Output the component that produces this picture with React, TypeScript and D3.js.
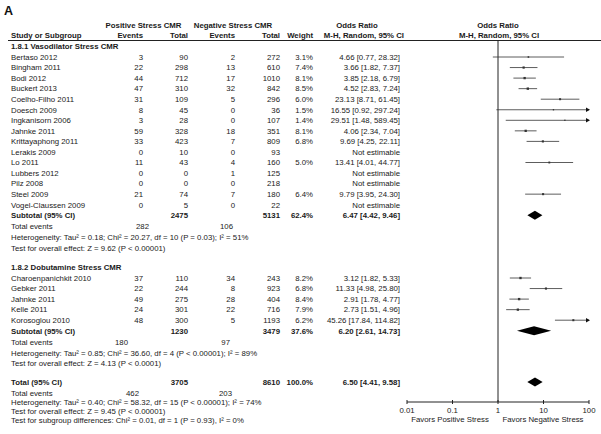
import React from "react";
import * as d3 from "d3";

// subgroup 1.8.1 Vasodilator Stress CMR
const studies1 = ["Bertaso 2012", "Bingham 2011", "Bodi 2012", "Buckert 2013", "Coelho-Filho 2011", "Doesch 2009", "Ingkanisorn 2006", "Jahnke 2011", "Krittayaphong 2011", "Lerakis 2009", "Lo 2011", "Lubbers 2012", "Pilz 2008", "Steel 2009", "Vogel-Claussen 2009"];
const posEvents1 = [3, 22, 44, 47, 31, 8, 3, 59, 33, 0, 11, 0, 0, 21, 0];
const posTotal1 = [90, 298, 712, 310, 109, 45, 28, 328, 423, 10, 43, 0, 0, 74, 5];
const negEvents1 = [2, 13, 17, 32, 5, 0, 0, 18, 7, 0, 4, 1, 0, 7, 0];
const negTotal1 = [272, 610, 1010, 842, 296, 36, 107, 351, 809, 93, 160, 125, 218, 180, 22];
const weight1 = [3.1, 7.4, 8.1, 8.5, 6.0, 1.5, 1.4, 8.1, 6.8, null, 5.0, null, null, 6.4, null];
const or1 = [4.66, 3.66, 3.85, 4.52, 23.13, 16.55, 29.51, 4.06, 9.69, null, 13.41, null, null, 9.79, null];
const lo1 = [0.77, 1.82, 2.18, 2.83, 8.71, 0.92, 1.48, 2.34, 4.25, null, 4.01, null, null, 3.95, null];
const hi1 = [28.32, 7.37, 6.79, 7.24, 61.45, 297.24, 589.45, 7.04, 22.11, null, 44.77, null, null, 24.3, null];

// subgroup 1.8.2 Dobutamine Stress CMR
const studies2 = ["Charoenpanichkit 2010", "Gebker 2011", "Jahnke 2011", "Kelle 2011", "Korosoglou 2010"];
const posEvents2 = [37, 22, 49, 24, 48];
const posTotal2 = [110, 244, 275, 301, 300];
const negEvents2 = [34, 8, 28, 22, 5];
const negTotal2 = [243, 923, 404, 716, 1193];
const weight2 = [8.2, 6.8, 8.4, 7.9, 6.2];
const or2 = [3.12, 11.33, 2.91, 2.73, 45.26];
const lo2 = [1.82, 4.98, 1.78, 1.51, 17.84];
const hi2 = [5.33, 25.8, 4.77, 4.96, 114.82];

// pooled: [subgroup 1, subgroup 2, overall]
const pooledPosTotal = [2475, 1230, 3705];
const pooledNegTotal = [5131, 3479, 8610];
const pooledWeight = [62.4, 37.6, 100.0];
const pooledOr = [6.47, 6.2, 6.5];
const pooledLo = [4.42, 2.61, 4.41];
const pooledHi = [9.46, 14.73, 9.58];
const totalPosEvents = [282, 180, 462];
const totalNegEvents = [106, 97, 203];
const heterogeneity = [
  "Heterogeneity: Tau² = 0.18; Chi² = 20.27, df = 10 (P = 0.03); I² = 51%",
  "Heterogeneity: Tau² = 0.85; Chi² = 36.60, df = 4 (P < 0.00001); I² = 89%",
  "Heterogeneity: Tau² = 0.40; Chi² = 58.32, df = 15 (P < 0.00001); I² = 74%",
];
const overallEffect = [
  "Test for overall effect: Z = 9.62 (P < 0.00001)",
  "Test for overall effect: Z = 4.13 (P < 0.0001)",
  "Test for overall effect: Z = 9.45 (P < 0.00001)",
];
const subgroupTest = "Test for subgroup differences: Chi² = 0.01, df = 1 (P = 0.93), I² = 0%";
const axisTicks = [0.01, 0.1, 1, 10, 100];

const FONT = "'Liberation Sans', Arial, sans-serif";
const FS = 7.8;

const fmtCI = (o, l, h) =>
  o == null ? "Not estimable" : `${o.toFixed(2)} [${l.toFixed(2)}, ${h.toFixed(2)}]`;

export default function App() {
  const x = d3.scaleLog().domain([0.01, 100]).range([407, 589]);
  const xMin = 407;
  const xMax = 589;
  const axisY = 402;

  const col = { study: 11, posEv: 143, posTot: 188, negEv: 235, negTot: 280, weight: 313, or: 400 };
  const step = 10.55;

  const T = (props) => (
    <text fontFamily={FONT} fontSize={FS} fill="#1a1a1a" {...props} />
  );

  const studyRow = (name, pe, pt, ne, nt, w, o, l, h, y, key) => {
    const b = y + 2.8;
    const s = w == null ? 0 : 1.1 + w * 0.15;
    return (
      <g key={key}>
        <T x={col.study} y={b}>{name}</T>
        <T x={col.posEv} y={b} textAnchor="end">{pe}</T>
        <T x={col.posTot} y={b} textAnchor="end">{pt}</T>
        <T x={col.negEv} y={b} textAnchor="end">{ne}</T>
        <T x={col.negTot} y={b} textAnchor="end">{nt}</T>
        {w != null && <T x={col.weight} y={b} textAnchor="end">{w.toFixed(1)}%</T>}
        <T x={col.or} y={b} textAnchor="end">{fmtCI(o, l, h)}</T>
        {o != null && (
          <g>
            <line x1={Math.max(x(l), xMin)} x2={Math.min(x(h), xMax)} y1={y} y2={y} stroke="#333" strokeWidth={0.8} />
            {h > 100 && <path d={`M${xMax + 1},${y} L${xMax - 3},${y - 2.2} L${xMax - 3},${y + 2.2} Z`} fill="#111" />}
            <rect x={x(o) - s / 2} y={y - s / 2} width={s} height={s} fill="#333" />
          </g>
        )}
      </g>
    );
  };

  const pooledRow = (label, i, y) => {
    const b = y + 2.8;
    const hh = 4.5;
    return (
      <g key={"p" + i}>
        <T x={col.study} y={b} fontWeight="bold">{label}</T>
        <T x={col.posTot} y={b} textAnchor="end" fontWeight="bold">{pooledPosTotal[i]}</T>
        <T x={col.negTot} y={b} textAnchor="end" fontWeight="bold">{pooledNegTotal[i]}</T>
        <T x={col.weight} y={b} textAnchor="end" fontWeight="bold">{pooledWeight[i].toFixed(1)}%</T>
        <T x={col.or} y={b} textAnchor="end" fontWeight="bold">{fmtCI(pooledOr[i], pooledLo[i], pooledHi[i])}</T>
        <path
          d={`M${x(pooledLo[i])},${y} L${x(pooledOr[i])},${y - hh} L${x(pooledHi[i])},${y} L${x(pooledOr[i])},${y + hh} Z`}
          fill="#000"
        />
      </g>
    );
  };

  // where the "Total events" numbers sit in each block
  const evX = [[149, 233], [128, 230], [139, 232]];

  const summary = (i, ys) => (
    <g key={"s" + i}>
      <T x={col.study} y={ys[0] + 2.8}>Total events</T>
      <T x={evX[i][0]} y={ys[0] + 2.8} textAnchor="end">{totalPosEvents[i]}</T>
      <T x={evX[i][1]} y={ys[0] + 2.8} textAnchor="end">{totalNegEvents[i]}</T>
      <T x={col.study} y={ys[1] + 2.8}>{heterogeneity[i]}</T>
      <T x={col.study} y={ys[2] + 2.8}>{overallEffect[i]}</T>
    </g>
  );

  const y1 = 57;
  const sub1Y = y1 + studies1.length * step;
  const y2 = 278;
  const sub2Y = y2 + studies2.length * step;
  const totY = 382;

  return (
    <svg width={601} height={434} style={{ position: "absolute", left: 0, top: 0, background: "#fff" }}>
      <text x={4} y={15} fontFamily={FONT} fontSize={12.5} fontWeight="bold" fill="#111">A</text>

      {/* headers */}
      <T x={143.5} y={27.8} textAnchor="middle" fontWeight="bold">Positive Stress CMR</T>
      <T x={233} y={27.8} textAnchor="middle" fontWeight="bold">Negative Stress CMR</T>
      <T x={357} y={27.8} textAnchor="middle" fontWeight="bold">Odds Ratio</T>
      <T x={498} y={27.8} textAnchor="middle" fontWeight="bold">Odds Ratio</T>
      <T x={col.study} y={37.8} fontWeight="bold">Study or Subgroup</T>
      <T x={col.posEv} y={37.8} textAnchor="end" fontWeight="bold">Events</T>
      <T x={col.posTot} y={37.8} textAnchor="end" fontWeight="bold">Total</T>
      <T x={col.negEv} y={37.8} textAnchor="end" fontWeight="bold">Events</T>
      <T x={col.negTot} y={37.8} textAnchor="end" fontWeight="bold">Total</T>
      <T x={col.weight} y={37.8} textAnchor="end" fontWeight="bold">Weight</T>
      <T x={404} y={37.8} textAnchor="end" fontWeight="bold">M-H, Random, 95% CI</T>
      <T x={499} y={37.8} textAnchor="middle" fontWeight="bold">M-H, Random, 95% CI</T>
      <line x1={8} x2={601} y1={40.5} y2={40.5} stroke="#222" strokeWidth={1} />

      {/* null line */}
      <line x1={x(1)} x2={x(1)} y1={40.5} y2={axisY} stroke="#222" strokeWidth={1} />

      <T x={col.study} y={46.5 + 2.8} fontWeight="bold">1.8.1 Vasodilator Stress CMR</T>
      {studies1.map((n, i) =>
        studyRow(n, posEvents1[i], posTotal1[i], negEvents1[i], negTotal1[i], weight1[i], or1[i], lo1[i], hi1[i], y1 + i * step, "a" + i)
      )}
      {pooledRow("Subtotal (95% CI)", 0, sub1Y)}
      {summary(0, [sub1Y + 11.3, sub1Y + 22, sub1Y + 32.5])}

      <T x={col.study} y={267 + 2.8} fontWeight="bold">1.8.2 Dobutamine Stress CMR</T>
      {studies2.map((n, i) =>
        studyRow(n, posEvents2[i], posTotal2[i], negEvents2[i], negTotal2[i], weight2[i], or2[i], lo2[i], hi2[i], y2 + i * step, "b" + i)
      )}
      {pooledRow("Subtotal (95% CI)", 1, sub2Y)}
      {summary(1, [sub2Y + 11.3, sub2Y + 22, sub2Y + 32.5])}

      {pooledRow("Total (95% CI)", 2, totY)}
      {summary(2, [totY + 10.8, totY + 20.5, totY + 29.5])}
      <T x={col.study} y={totY + 38.5 + 2.8}>{subgroupTest}</T>

      {/* axis */}
      <line x1={xMin} x2={xMax} y1={axisY} y2={axisY} stroke="#222" strokeWidth={1} />
      {axisTicks.map((t) => (
        <g key={t}>
          <line x1={x(t)} x2={x(t)} y1={axisY - 2} y2={axisY + 2} stroke="#222" strokeWidth={1} />
          <T x={x(t)} y={axisY + 11} textAnchor="middle">{String(t)}</T>
        </g>
      ))}
      <T x={450} y={axisY + 19.5} textAnchor="middle">Favors Positive Stress</T>
      <T x={543} y={axisY + 19.5} textAnchor="middle">Favors Negative Stress</T>
    </svg>
  );
}
